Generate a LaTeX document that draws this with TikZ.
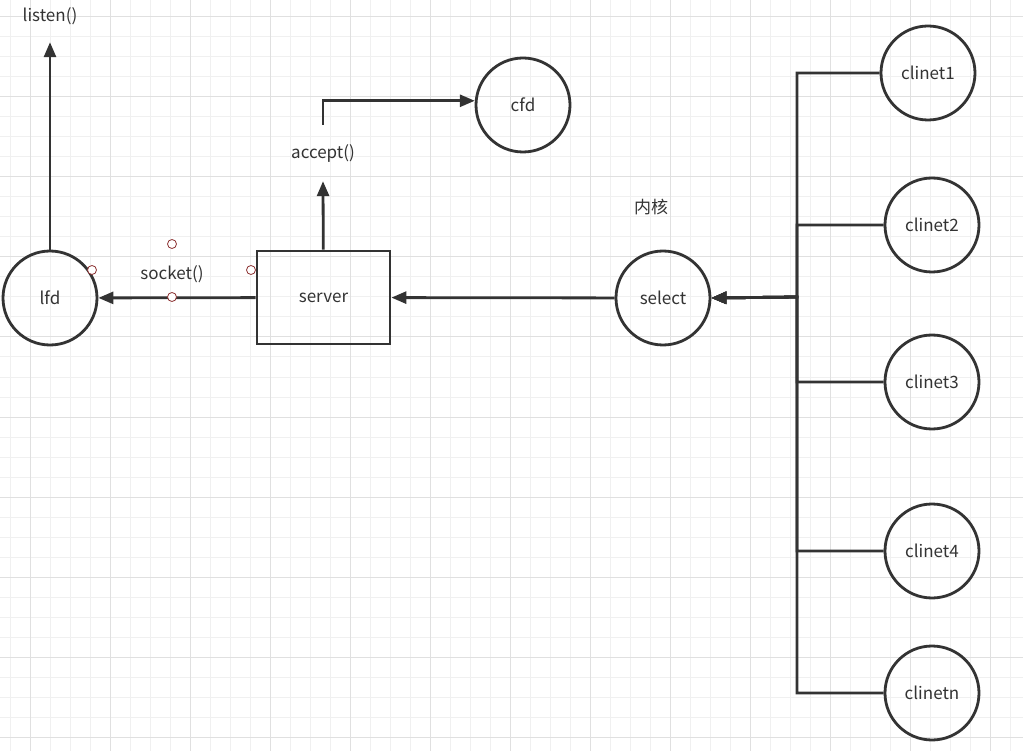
\documentclass[tikz,border=0pt]{standalone}
\usepackage{fontspec}
\setmainfont{Noto Sans CJK SC}
\usepackage{tikz}
\usetikzlibrary{positioning,arrows.meta}
\definecolor{ink}{RGB}{51,51,51}
\definecolor{gridm}{RGB}{240,240,240}
\definecolor{gridM}{RGB}{224,224,224}
\definecolor{hdl}{RGB}{140,50,50}

\begin{document}
\begin{tikzpicture}[x=1pt, y=-1pt, every node/.style={font=\fontsize{17}{20}\selectfont, text=ink},
  rnd/.style={draw=ink, circle, line width=2.8pt, minimum size=94pt, inner sep=0pt, text depth=-3pt},
  box/.style={draw=ink, line width=2.8pt, minimum width=133pt, minimum height=93pt, text depth=-3pt},
  lbl/.style={inner sep=0pt},
  hd/.style={draw=hdl, circle, line width=0.8pt, minimum size=9pt, inner sep=0pt, fill=white},
  a/.style={-{Triangle[length=15pt, width=12pt]}, draw=ink, line width=2.8pt}]
\fill[white] (0,0) rectangle (1023,751);
\useasboundingbox (0,0) rectangle (1023,751);
% grid
\foreach \x in {10,30,...,1010} \draw[gridm, line width=1pt] (\x,0) -- (\x,751);
\foreach \y in {17,37,...,737} \draw[gridm, line width=1pt] (0,\y) -- (1023,\y);
\foreach \x in {30,110,...,1010} \draw[gridM, line width=1pt] (\x,0) -- (\x,751);
\foreach \y in {17,97,...,737} \draw[gridM, line width=1pt] (0,\y) -- (1023,\y);
% nodes
\node[rnd] (lfd) at (50,298) {lfd};
\node[box] (srv) at (323.5,297.5) {server};
\node[rnd] (cfd) at (523,105) {cfd};
\node[rnd] (sel) at (663,298) {select};
\node[rnd] (c1) at (928,73) {clinet1};
\node[rnd] (c2) at (932,225) {clinet2};
\node[rnd] (c3) at (932,382) {clinet3};
\node[rnd] (c4) at (932,551) {clinet4};
\node[rnd] (cn) at (932,693) {clinetn};
\node[lbl, minimum height=52pt] (lis) at (50,16) {listen()};
\node[lbl, minimum height=56pt] (acc) at (323,153) {accept()};
\node[lbl] (sock) at (172,274) {socket()};
\node[lbl] (kern) at (651,207) {内核};
\coordinate (bus) at (797,297);
% connectors
\draw[a] (lfd) -- (lis.south);
\draw[a] (srv) -- (acc.south);
\draw[a] (acc.north) |- (cfd.175);
\draw[a] (srv) -- (lfd);
\draw[a] (sel) -- (srv);
\foreach \n in {c1,c2,c3,c4,cn} \draw[a] (\n.west) -| (bus) -- (sel.east);
% handles
\node[hd] (h1) at (172,244) {};
\node[hd] (h2) at (92,270) {};
\node[hd] (h3) at (251,270) {};
\node[hd] (h4) at (172,297) {};
\end{tikzpicture}
\end{document}
